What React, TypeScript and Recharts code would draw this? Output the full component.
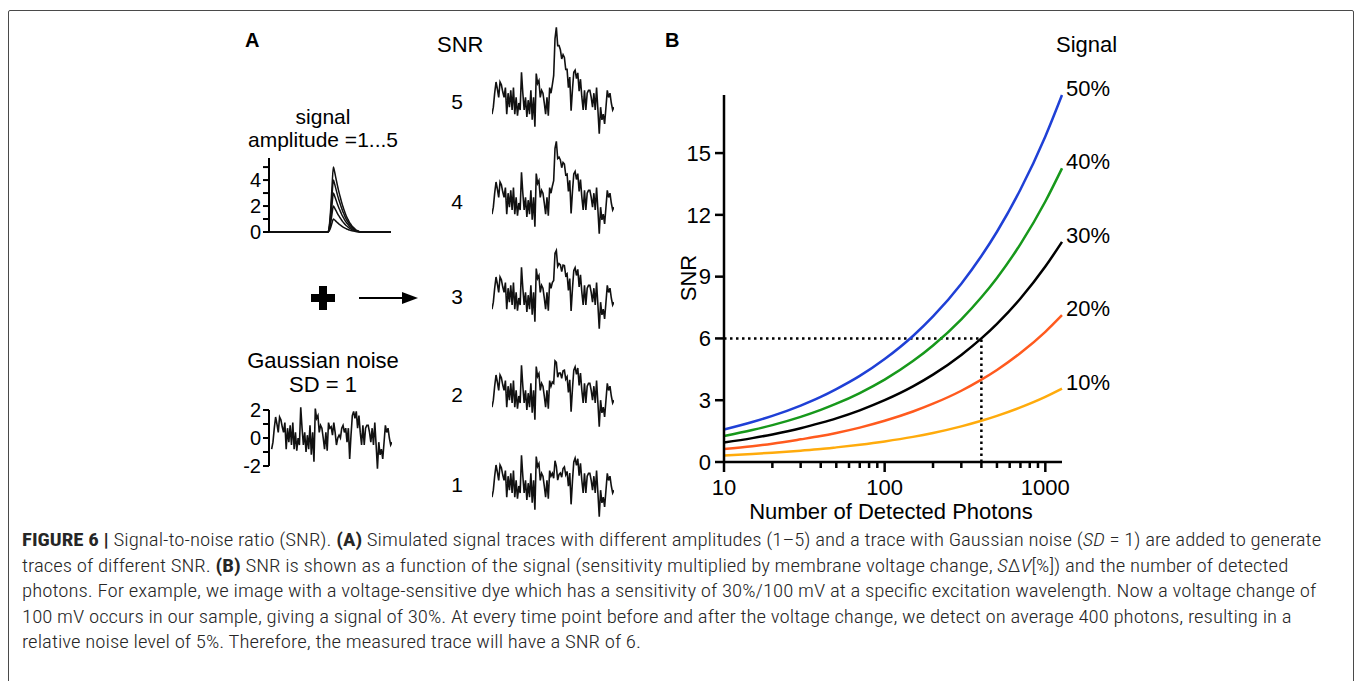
import { useLayoutEffect, useRef, useState } from 'react';
import { LineChart, Line, XAxis, YAxis, ReferenceLine } from 'recharts';

const FONT = '"Liberation Sans", Arial, Helvetica, sans-serif';
const CAPTION_FONT = '"Liberation Sans Narrow", "Roboto Condensed", Roboto, "DejaVu Sans Condensed", sans-serif';

// ---- panel A: one noise trace (SD = 1) and the signal shape (amplitude 1) ----
const NOISE = [
  -0.8, -0.3, 0.7, 1.5, 1.0, 0.4, 1.5, 1.3, 0.8, 0.4,
  1.1, -0.8, 0.7, -0.3, 0.9, -0.5, 1.1, -0.8, 0.4, -0.9,
  0.0, -0.5, 2.2, 0.7, -0.5, 0.4, -1.0, 0.2, -0.8, 0.9,
  -1.2, 0.4, -1.7, 2.1, 1.4, 1.6, 0.4, 0.9, 0.7, 0.0,
  -0.8, 0.4, -0.9, 1.1, 0.7, 0.8, 0.2, 1.1, 0.4, -0.5,
  0.0, 0.2, 0.0, 0.7, 0.9, 0.4, 0.7, -0.3, 0.7, -1.5,
  0.2, 1.6, 1.9, 1.4, 1.9, 0.7, 1.6, 0.4, -0.5, 0.9,
  -0.5, 0.7, 0.9, 0.9, 0.4, -0.3, 0.7, -0.5, 1.1, -0.5,
  -2.2, -0.3, -1.2, -0.8, -1.5, -0.3, 0.9, 0.4, 0.7, 0.0,
  -0.5, -0.3,
];
const SIGNAL_SHAPE = [
  0, 0, 0, 0, 0, 0, 0, 0, 0, 0,
  0, 0, 0, 0, 0, 0, 0, 0, 0, 0,
  0, 0, 0, 0, 0, 0, 0, 0, 0, 0,
  0, 0, 0, 0, 0, 0, 0, 0, 0, 0,
  0, 0, 0, 0, 0, 0.1, 0.35, 0.7, 1.0, 0.92,
  0.82, 0.72, 0.63, 0.55, 0.47, 0.4, 0.34, 0.28, 0.23, 0.19,
  0.15, 0.12, 0.09, 0.07, 0.05, 0.03, 0.02, 0.01, 0, 0,
  0, 0, 0, 0, 0, 0, 0, 0, 0, 0,
  0, 0, 0, 0, 0, 0, 0, 0, 0, 0,
  0, 0,
];
const AMPLITUDES = [1, 2, 3, 4, 5];
const SNR_ROWS = [5, 4, 3, 2, 1];
const AMP_TICKS = [0, 1, 2, 3, 4, 5];
const NOISE_TICKS = [-2, -1, 0, 1, 2];

// ---- panel B ----
const PHOTONS = [10, 15, 20, 30, 40, 50, 70, 100, 150, 200, 300, 400, 500, 700, 1000, 1270];
const SNR_10 = [0.32, 0.39, 0.45, 0.55, 0.63, 0.71, 0.84, 1.0, 1.22, 1.41, 1.73, 2.0, 2.24, 2.65, 3.16, 3.56];
const SNR_20 = [0.63, 0.77, 0.89, 1.1, 1.26, 1.41, 1.67, 2.0, 2.45, 2.83, 3.46, 4.0, 4.47, 5.29, 6.32, 7.13];
const SNR_30 = [0.95, 1.16, 1.34, 1.64, 1.9, 2.12, 2.51, 3.0, 3.67, 4.24, 5.2, 6.0, 6.71, 7.94, 9.49, 10.69];
const SNR_40 = [1.26, 1.55, 1.79, 2.19, 2.53, 2.83, 3.35, 4.0, 4.9, 5.66, 6.93, 8.0, 8.94, 10.58, 12.65, 14.26];
const SNR_50 = [1.58, 1.94, 2.24, 2.74, 3.16, 3.54, 4.18, 5.0, 6.12, 7.07, 8.66, 10.0, 11.18, 13.23, 15.81, 17.82];
const SIGNAL_LABELS = ['10%', '20%', '30%', '40%', '50%'];
const SIGNAL_COLORS = ['#ffab0c', '#ff5a1e', '#000000', '#17981b', '#1f40d6'];
const PHOTON_TICKS = [10, 20, 30, 40, 50, 60, 70, 80, 90, 100, 200, 300, 400, 500, 600, 700, 800, 900, 1000];
const PHOTON_LABELS = [10, 100, 1000];
const SNR_TICKS = [0, 3, 6, 9, 12, 15];
const EXAMPLE_PHOTONS = 400;
const EXAMPLE_SNR = 6;

const traceData = NOISE.map((v, i) => {
  const row: Record<string, number> = { i, noise: v };
  AMPLITUDES.forEach((a) => {
    row['a' + a] = a * SIGNAL_SHAPE[i];
    row['s' + a] = v + a * SIGNAL_SHAPE[i];
  });
  return row;
});

const snrSeries = [SNR_10, SNR_20, SNR_30, SNR_40, SNR_50];
const photonData = PHOTONS.map((n, i) => {
  const row: Record<string, number> = { n };
  snrSeries.forEach((s, k) => (row['p' + k] = s[i]));
  return row;
});

// zero level (page y) of each SNR trace row
const ROW_ZERO_Y = [103, 203, 298, 396, 486];

function PhotonTick(props: any) {
  const { x, y, payload } = props;
  const major = PHOTON_LABELS.includes(payload.value);
  return (
    <g>
      <line x1={x} x2={x} y1={y} y2={y + (major ? 10 : 6)} stroke="#000" strokeWidth={2.5} />
      {major && (
        <text x={x} y={y + 33} textAnchor="middle" fontSize={22} fontFamily={FONT} fill="#000">
          {payload.value}
        </text>
      )}
    </g>
  );
}

function SmallTick(props: any) {
  const { x, y, payload } = props;
  if (payload.value % 2 !== 0) return <g />;
  return (
    <text x={x} y={y} dy="0.36em" textAnchor="end" fontSize={20} fontFamily={FONT} fill="#000">
      {payload.value}
    </text>
  );
}

const endLabel = (text: string) => (p: any) => {
  const x = p.x ?? p.viewBox?.x;
  const y = p.y ?? p.viewBox?.y;
  if (p.index !== PHOTONS.length - 1) return <g key={p.index} />;
  return (
    <text key={p.index} x={x + 4} y={y + 1} fontSize={22} fontFamily={FONT} fill="#000">
      {text}
    </text>
  );
};

function Caption() {
  const ref = useRef<SVGTextElement>(null);
  const [k, setK] = useState(1);
  useLayoutEffect(() => {
    if (ref.current) {
      const w = ref.current.getComputedTextLength();
      if (w > 0) setK(1300 / w);
    }
  }, []);
  const b = { fontWeight: 'bold' as const };
  const it = { fontStyle: 'italic' as const };
  return (
    <g transform={`translate(22 0) scale(${k} 1)`} fontFamily={CAPTION_FONT} fontSize={17.5} fontWeight={300} fill="#262626">
      <text ref={ref} x={0} y={546}>
        <tspan {...b}>FIGURE 6 |</tspan>
        {' Signal-to-noise ratio (SNR). '}
        <tspan {...b}>(A)</tspan>
        {' Simulated signal traces with different amplitudes (1–5) and a trace with Gaussian noise ('}
        <tspan {...it}>SD</tspan>
        {' = 1) are added to generate'}
      </text>
      <text x={0} y={572}>
        {'traces of different SNR. '}
        <tspan {...b}>(B)</tspan>
        {' SNR is shown as a function of the signal (sensitivity multiplied by membrane voltage change, '}
        <tspan {...it}>S</tspan>Δ<tspan {...it}>V</tspan>
        {'[%]) and the number of detected'}
      </text>
      <text x={0} y={597}>
        photons. For example, we image with a voltage-sensitive dye which has a sensitivity of 30%/100 mV at a specific excitation wavelength. Now a voltage change of
      </text>
      <text x={0} y={623}>
        100 mV occurs in our sample, giving a signal of 30%. At every time point before and after the voltage change, we detect on average 400 photons, resulting in a
      </text>
      <text x={0} y={648}>relative noise level of 5%. Therefore, the measured trace will have a SNR of 6.</text>
    </g>
  );
}

const abs = (left: number, top: number) => ({ position: 'absolute' as const, left, top });

export default function App() {
  return (
    <div
      style={{
        position: 'absolute',
        left: 0,
        top: 0,
        width: 1357,
        height: 681,
        overflow: 'hidden',
        background: '#fff',
        fontFamily: FONT,
      }}
    >
      <div
        style={{
          position: 'absolute',
          left: 8,
          top: 10,
          width: 1344,
          height: 720,
          border: '1.5px solid #4a4a4a',
          borderRadius: 2,
        }}
      />

      <svg width={1357} height={681} style={abs(0, 0)} fontFamily={FONT} fill="#000">
        {/* panel A texts */}
        <text x={245} y={47} fontSize={20} fontWeight="bold">A</text>
        <text x={437} y={52} fontSize={22}>SNR</text>
        <text x={323} y={124} fontSize={21} textAnchor="middle">signal</text>
        <text x={323} y={147} fontSize={21} textAnchor="middle">amplitude =1...5</text>
        <text x={323} y={368} fontSize={22} textAnchor="middle">Gaussian noise</text>
        <text x={323} y={392} fontSize={22} textAnchor="middle">SD = 1</text>
        {SNR_ROWS.map((s, i) => (
          <text key={s} x={457} y={ROW_ZERO_Y[i] + 6} fontSize={21} textAnchor="middle">
            {s}
          </text>
        ))}
        <rect x={311} y={294} width={24} height={8} />
        <rect x={319} y={286} width={8} height={24} />
        <line x1={359} y1={298} x2={405} y2={298} stroke="#000" strokeWidth={2} />
        <path d="M418 298 L402 292 L402 304 Z" />

        {/* panel B texts */}
        <text x={665} y={47} fontSize={20} fontWeight="bold">B</text>
        <text x={1056} y={52} fontSize={22}>Signal</text>
        <text x={696} y={278} fontSize={22} textAnchor="middle" transform="rotate(-90 696 278)">
          SNR
        </text>
        <text x={891} y={519} fontSize={22} textAnchor="middle">Number of Detected Photons</text>

        <Caption />
      </svg>

      {/* signal amplitude traces */}
      <div style={abs(229, 148)}>
        <LineChart width={162} height={94} data={traceData} margin={{ top: 10, right: 0, bottom: 10, left: 0 }}>
          <XAxis dataKey="i" type="number" domain={[0, 91]} hide />
          <YAxis
            type="number"
            domain={[0, 5.7]}
            ticks={AMP_TICKS}
            interval={0}
            width={40}
            tickSize={6}
            tickMargin={2}
            axisLine={{ stroke: '#000', strokeWidth: 2 }}
            tickLine={{ stroke: '#000', strokeWidth: 2 }}
            tick={<SmallTick />}
          />
          {AMPLITUDES.map((a) => (
            <Line
              key={a}
              dataKey={'a' + a}
              type="monotone"
              stroke="#111"
              strokeWidth={1.5}
              dot={false}
              isAnimationActive={false}
            />
          ))}
        </LineChart>
      </div>

      {/* Gaussian noise trace */}
      <div style={abs(229, 393)}>
        <LineChart width={163} height={90} data={traceData} margin={{ top: 10, right: 0, bottom: 10, left: 0 }}>
          <XAxis dataKey="i" type="number" domain={[-2, 91]} hide />
          <YAxis
            type="number"
            domain={[-2.5, 2.5]}
            ticks={NOISE_TICKS}
            interval={0}
            width={40}
            tickSize={6}
            tickMargin={2}
            axisLine={false}
            tickLine={{ stroke: '#000', strokeWidth: 2 }}
            tick={<SmallTick />}
          />
          <ReferenceLine
            segment={[
              { x: -2, y: -2 },
              { x: -2, y: 2 },
            ]}
            stroke="#000"
            strokeWidth={2}
          />
          <Line dataKey="noise" type="linear" stroke="#111" strokeWidth={1.6} dot={false} isAnimationActive={false} />
        </LineChart>
      </div>

      {/* traces of different SNR */}
      {SNR_ROWS.map((s, r) => (
        <div key={s} style={abs(492, ROW_ZERO_Y[r] - 91)}>
          <LineChart width={122} height={126} data={traceData} margin={{ top: 0, right: 0, bottom: 0, left: 0 }}>
            <XAxis dataKey="i" type="number" domain={[0, 91]} hide />
            <YAxis type="number" domain={[-2.5, 6.5]} hide />
            <Line dataKey={'s' + s} type="linear" stroke="#111" strokeWidth={1.6} dot={false} isAnimationActive={false} />
          </LineChart>
        </div>
      ))}

      {/* panel B chart */}
      <div style={abs(640, 60)}>
        <LineChart width={540} height={480} data={photonData} margin={{ top: 35, right: 118, bottom: 18, left: 0 }}>
          <XAxis
            dataKey="n"
            type="number"
            scale="log"
            domain={[10, 1270]}
            ticks={PHOTON_TICKS}
            interval={0}
            height={60}
            tickSize={0}
            tickMargin={0}
            tickLine={false}
            axisLine={{ stroke: '#000', strokeWidth: 2.5 }}
            tick={<PhotonTick />}
          />
          <YAxis
            type="number"
            domain={[0, 17.6]}
            ticks={SNR_TICKS}
            interval={0}
            width={84}
            tickSize={9}
            tickMargin={4}
            axisLine={{ stroke: '#000', strokeWidth: 2.5 }}
            tickLine={{ stroke: '#000', strokeWidth: 2.5 }}
            tick={{ fontSize: 22, fill: '#000', fontFamily: FONT }}
          />
          <ReferenceLine
            segment={[
              { x: 10, y: EXAMPLE_SNR },
              { x: EXAMPLE_PHOTONS, y: EXAMPLE_SNR },
            ]}
            stroke="#000"
            strokeWidth={2.5}
            strokeDasharray="2.5 3.5"
          />
          <ReferenceLine
            segment={[
              { x: EXAMPLE_PHOTONS, y: 0 },
              { x: EXAMPLE_PHOTONS, y: EXAMPLE_SNR },
            ]}
            stroke="#000"
            strokeWidth={2.5}
            strokeDasharray="2.5 3.5"
          />
          {snrSeries.map((_, k) => (
            <Line
              key={k}
              dataKey={'p' + k}
              type="monotone"
              stroke={SIGNAL_COLORS[k]}
              strokeWidth={2.5}
              dot={false}
              label={endLabel(SIGNAL_LABELS[k])}
              isAnimationActive={false}
            />
          ))}
        </LineChart>
      </div>
    </div>
  );
}
